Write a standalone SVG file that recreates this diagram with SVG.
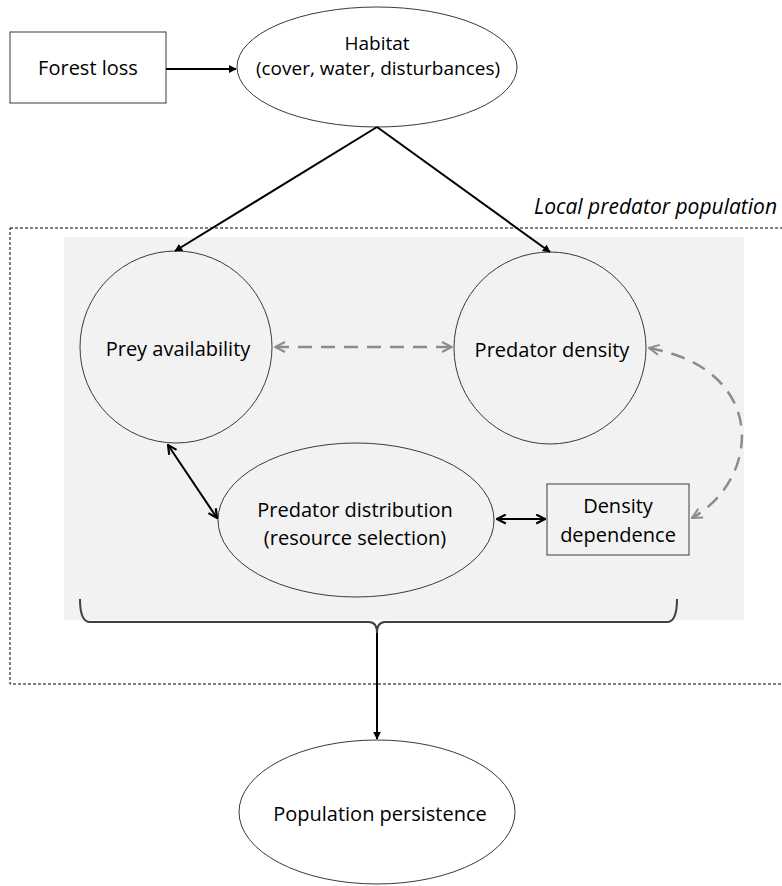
<svg xmlns="http://www.w3.org/2000/svg" width="782" height="886" viewBox="0 0 782 886">
<style>
text{font-family:"Open Sans","Liberation Sans",Arial,sans-serif;font-size:20px;fill:#000;text-anchor:middle}
.sm{font-size:19px}
.node{fill:#fff;stroke:#3a3a3a;stroke-width:1}
.inner{fill:#f2f2f2;stroke:#3a3a3a;stroke-width:1}
.blk{fill:none;stroke:#000;stroke-width:2}
.gry{fill:none;stroke:#8c8c8c;stroke-width:2.5;stroke-dasharray:14 9}
</style>
<defs>
<marker id="tri" viewBox="0 0 10 10" refX="9" refY="5" markerWidth="4" markerHeight="4" orient="auto-start-reverse" markerUnits="strokeWidth">
<path d="M0,0 L10,5 L0,10 z" fill="#000"/>
</marker>
<marker id="chev" viewBox="0 0 10 10" refX="9" refY="5" markerWidth="5.5" markerHeight="5.5" orient="auto-start-reverse" markerUnits="strokeWidth">
<path d="M1,1 L9,5 L1,9" fill="none" stroke="#000" stroke-width="2"/>
</marker>
<marker id="gchev" viewBox="0 0 10 10" refX="9" refY="5" markerWidth="5" markerHeight="5" orient="auto-start-reverse" markerUnits="strokeWidth">
<path d="M1,1 L9,5 L1,9" fill="none" stroke="#8c8c8c" stroke-width="1.6"/>
</marker>
</defs>
<rect x="0" y="0" width="782" height="886" fill="#fff"/>
<g id="population-frame">
<rect x="10" y="228" width="800" height="456" fill="none" stroke="#000" stroke-width="1" stroke-dasharray="3 2"/>
<rect x="64" y="237" width="680" height="383" fill="#f2f2f2"/>
<text x="777" y="214" style="font-style:italic;text-anchor:end;font-size:21px">Local predator population</text>
</g>
<g id="forest-loss">
<rect class="node" x="10" y="32" width="156" height="71"/>
<text x="88" y="75">Forest loss</text>
</g>
<g id="habitat">
<ellipse class="node" cx="377" cy="67" rx="140" ry="60"/>
<text class="sm" x="377" y="50">Habitat</text>
<text class="sm" x="378" y="75">(cover, water, disturbances)</text>
</g>
<g id="prey-availability">
<circle class="inner" cx="176" cy="347" r="96"/>
<text x="178" y="356">Prey availability</text>
</g>
<g id="predator-density">
<circle class="inner" cx="550" cy="348" r="96"/>
<text x="552" y="357">Predator density</text>
</g>
<g id="predator-distribution">
<ellipse class="inner" cx="356" cy="520" rx="138" ry="77"/>
<text x="355" y="517">Predator distribution</text>
<text x="355" y="545">(resource selection)</text>
</g>
<g id="density-dependence">
<rect class="inner" x="547" y="484" width="142" height="71"/>
<text x="618" y="513">Density</text>
<text x="618" y="542">dependence</text>
</g>
<g id="population-persistence">
<ellipse class="node" cx="377" cy="812" rx="138" ry="72"/>
<text x="380" y="821">Population persistence</text>
</g>
<g id="connectors">
<line class="blk" x1="166" y1="69" x2="236" y2="69" marker-end="url(#tri)"/>
<line class="blk" x1="377" y1="127" x2="175" y2="251" marker-end="url(#tri)"/>
<line class="blk" x1="377" y1="127" x2="550" y2="252" marker-end="url(#tri)"/>
<line class="gry" x1="275" y1="347" x2="452" y2="347" marker-start="url(#gchev)" marker-end="url(#gchev)"/>
<path class="gry" d="M649,348 C770,370 760,480 692,518" marker-start="url(#gchev)" marker-end="url(#gchev)"/>
<line class="blk" x1="168" y1="445" x2="217" y2="518" marker-start="url(#chev)" marker-end="url(#chev)"/>
<line class="blk" x1="497" y1="519" x2="545" y2="519" marker-start="url(#chev)" marker-end="url(#chev)"/>
<path d="M80,599 Q80,622 90,622 L369,622 Q377,622 377,633 Q377,622 385,622 L667,622 Q677,622 677,599" fill="none" stroke="#404040" stroke-width="2"/>
<line class="blk" x1="377" y1="633" x2="377" y2="739" marker-end="url(#tri)"/>
</g>
</svg>
